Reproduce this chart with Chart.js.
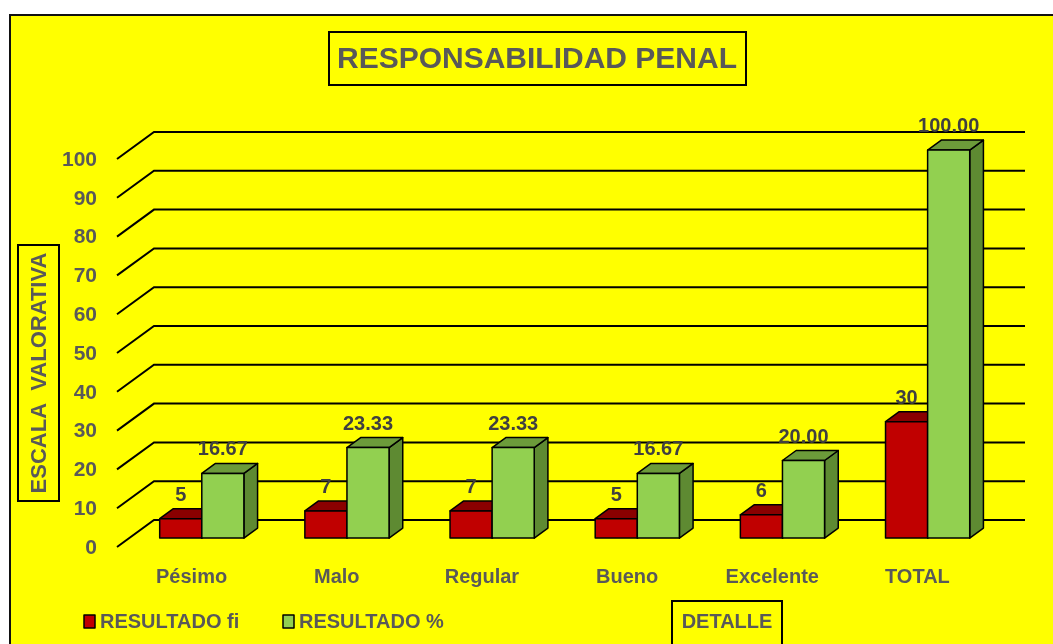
<!DOCTYPE html>
<html>
<head>
<meta charset="utf-8">
<script src="https://cdn.jsdelivr.net/npm/chart.js@4.4.1/dist/chart.umd.min.js"></script>
<style>
  body { margin: 0; background: #fff; }
  #wrap { width: 1053px; height: 644px; }
</style>
</head>
<body>
<div id="wrap"><canvas id="myChart" width="1053" height="644"></canvas></div>
<script>
const categories = ['Pésimo', 'Malo', 'Regular', 'Bueno', 'Excelente', 'TOTAL'];
const resultadoFi = [5, 7, 7, 5, 6, 30];
const resultadoPct = [16.67, 23.33, 23.33, 16.67, 20.00, 100.00];
const yTicks = [0, 10, 20, 30, 40, 50, 60, 70, 80, 90, 100];

// 3d look: depth of the back wall and where bars sit in it
const DX = 37, DY = -27;
const D0 = 0.33, D1 = 0.70;
const FONT = '"Liberation Sans", Arial, sans-serif';
const GREY = '#595959';

const faces = [
  { front: '#C00000', top: '#8A0000', side: '#7A0000' },
  { front: '#92D050', top: '#6C9B3A', side: '#5E8A32' }
];

function boxText(ctx, text, cx, cy, bx, by, bw, bh, size, rotate) {
  ctx.save();
  ctx.strokeStyle = '#000';
  ctx.lineWidth = 2;
  ctx.strokeRect(bx, by, bw, bh);
  ctx.fillStyle = GREY;
  ctx.font = 'bold ' + size + 'px ' + FONT;
  ctx.textAlign = 'center';
  ctx.textBaseline = 'middle';
  ctx.translate(cx, cy);
  if (rotate) ctx.rotate(-Math.PI / 2);
  ctx.fillText(text, 0, 0);
  ctx.restore();
}

const fake3d = {
  id: 'fake3d',
  beforeDraw(chart) {
    const ctx = chart.ctx;
    ctx.save();
    ctx.fillStyle = '#fff';
    ctx.fillRect(0, 0, chart.width, chart.height);
    ctx.fillStyle = '#FFFF00';
    ctx.fillRect(10, 15, chart.width, chart.height);
    ctx.strokeStyle = '#111';
    ctx.lineWidth = 2;
    ctx.beginPath();
    ctx.moveTo(10, chart.height);
    ctx.lineTo(10, 15);
    ctx.lineTo(chart.width, 15);
    ctx.stroke();
    ctx.restore();
  },
  beforeDatasetsDraw(chart) {
    const ctx = chart.ctx, y = chart.scales.y, area = chart.chartArea;
    ctx.save();
    ctx.strokeStyle = '#000';
    ctx.lineWidth = 2;
    ctx.fillStyle = GREY;
    ctx.font = 'bold 21px ' + FONT;
    ctx.textAlign = 'right';
    ctx.textBaseline = 'middle';
    yTicks.forEach(v => {
      const py = y.getPixelForValue(v);
      ctx.beginPath();
      ctx.moveTo(area.left, py);
      ctx.lineTo(area.left + DX, py + DY);
      ctx.lineTo(area.right + DX, py + DY);
      ctx.stroke();
      ctx.fillText(String(v), area.left - 20, py + 1);
    });
    ctx.restore();
  },
  afterDatasetsDraw(chart) {
    const ctx = chart.ctx, x = chart.scales.x, area = chart.chartArea;
    const ox = DX * D0, oy = DY * D0;
    const dd = D1 - D0, ddx = DX * dd, ddy = DY * dd;
    ctx.save();
    ctx.strokeStyle = '#000';
    ctx.lineWidth = 1.5;
    ctx.lineJoin = 'round';
    categories.forEach((c, i) => {
      chart.data.datasets.forEach((ds, di) => {
        const el = chart.getDatasetMeta(di).data[i];
        const f = faces[di];
        const x0 = el.x - el.width / 2 + ox, x1 = el.x + el.width / 2 + ox;
        const yt = el.y + oy, yb = el.base + oy;
        // side
        ctx.beginPath();
        ctx.moveTo(x1, yt); ctx.lineTo(x1 + ddx, yt + ddy);
        ctx.lineTo(x1 + ddx, yb + ddy); ctx.lineTo(x1, yb); ctx.closePath();
        ctx.fillStyle = f.side; ctx.fill(); ctx.stroke();
        // top
        ctx.beginPath();
        ctx.moveTo(x0, yt); ctx.lineTo(x1, yt);
        ctx.lineTo(x1 + ddx, yt + ddy); ctx.lineTo(x0 + ddx, yt + ddy); ctx.closePath();
        ctx.fillStyle = f.top; ctx.fill(); ctx.stroke();
        // front
        ctx.fillStyle = f.front;
        ctx.fillRect(x0, yt, x1 - x0, yb - yt);
        ctx.strokeRect(x0, yt, x1 - x0, yb - yt);
      });
    });
    // value labels
    ctx.fillStyle = '#404040';
    ctx.font = 'bold 20px ' + FONT;
    ctx.textAlign = 'center';
    ctx.textBaseline = 'alphabetic';
    chart.data.datasets.forEach((ds, di) => {
      chart.getDatasetMeta(di).data.forEach((el, i) => {
        const v = ds.data[i];
        const txt = di === 0 ? String(v) : v.toFixed(2);
        ctx.fillText(txt, el.x + ox, el.y + oy + ddy - 8);
      });
    });
    // category labels
    ctx.fillStyle = GREY;
    ctx.textBaseline = 'middle';
    categories.forEach((c, i) => {
      ctx.fillText(c, x.getPixelForValue(i) + 2, area.bottom + 30);
    });
    // legend
    ctx.font = 'bold 20px ' + FONT;
    ctx.textAlign = 'left';
    const legX = [84, 283];
    chart.data.datasets.forEach((ds, di) => {
      ctx.fillStyle = faces[di].front;
      ctx.fillRect(legX[di], 615, 11, 13);
      ctx.lineWidth = 1.5;
      ctx.strokeRect(legX[di], 615, 11, 13);
      ctx.fillStyle = GREY;
      ctx.fillText(ds.label, legX[di] + 16, 622);
    });
    ctx.restore();
    boxText(ctx, 'RESPONSABILIDAD PENAL', 537, 60, 329, 32, 417, 53, 30, false);
    boxText(ctx, 'ESCALA  VALORATIVA', 40, 373, 18, 245, 41, 256, 22, true);
    boxText(ctx, 'DETALLE', 727, 622, 672, 601, 110, 50, 20, false);
  }
};

const chartData = {
  labels: categories,
  datasets: [
    { label: 'RESULTADO fi', data: resultadoFi, backgroundColor: 'rgba(0,0,0,0)', borderWidth: 0 },
    { label: 'RESULTADO %', data: resultadoPct, backgroundColor: 'rgba(0,0,0,0)', borderWidth: 0 }
  ]
};

const myChart = new Chart(document.getElementById('myChart'), {
  type: 'bar',
  data: chartData,
  plugins: [fake3d],
  options: {
    responsive: false,
    animation: false,
    layout: { padding: { left: 117, right: 65, top: 159, bottom: 97 } },
    datasets: { bar: { categoryPercentage: 0.58, barPercentage: 1 } },
    scales: {
      x: { display: false },
      y: { display: false, min: 0, max: 100, ticks: { stepSize: 10 } }
    },
    plugins: { legend: { display: false }, tooltip: { enabled: false } }
  }
});
</script>
</body>
</html>
